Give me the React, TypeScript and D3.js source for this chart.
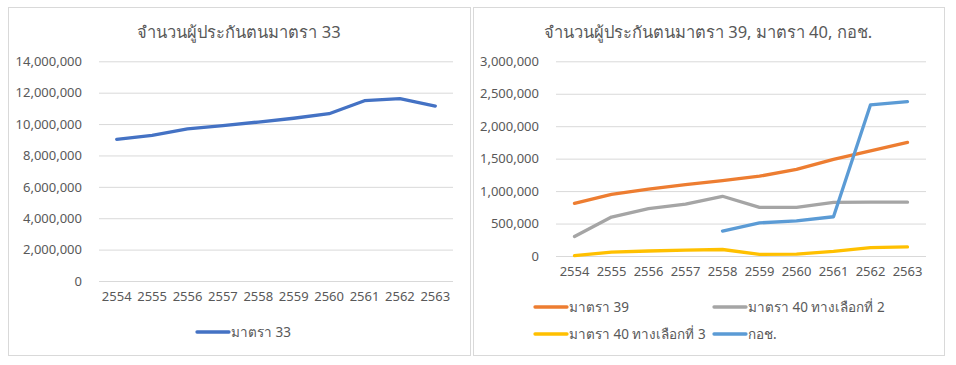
import { useEffect, useRef } from 'react';
import * as d3 from 'd3';

const years = ['2554', '2555', '2556', '2557', '2558', '2559', '2560', '2561', '2562', '2563'];

const s33 = [9030000, 9280000, 9690000, 9900000, 10130000, 10370000, 10660000, 11490000, 11620000, 11150000];

const s39 = [812000, 950000, 1030000, 1100000, 1160000, 1230000, 1336000, 1490000, 1620000, 1750000];
const s40opt2 = [300000, 600000, 730000, 800000, 920000, 750000, 750000, 827000, 830000, 830000];
const s40opt3 = [5000, 60000, 77000, 90000, 100000, 26000, 30000, 70000, 130000, 140000];
const kor = [null, null, null, null, 385000, 510000, 540000, 605000, 2330000, 2380000];

const leftTicks = [0, 2000000, 4000000, 6000000, 8000000, 10000000, 12000000, 14000000];
const rightTicks = [0, 500000, 1000000, 1500000, 2000000, 2500000, 3000000];

const FONT = "'Segoe UI', 'Noto Sans', 'Open Sans', sans-serif";
const TXT = '#595959';
const GRID = '#d9d9d9';

type Series = { name: string; values: (number | null)[]; color: string };

export default function App() {
  const ref = useRef<SVGSVGElement>(null);

  useEffect(() => {
    if (!ref.current) return;
    const svg = d3.select(ref.current);
    svg.selectAll('*').remove();
    const fmt = d3.format(',');

    function panel(
      box: { x: number; y: number; w: number; h: number },
      plot: { left: number; right: number; top: number; bottom: number },
      title: string,
      titleX: number,
      ticks: number[],
      series: Series[],
      legend: { x: number; y: number }[]
    ) {
      const g = svg.append('g');
      g.append('rect')
        .attr('x', box.x + 0.5).attr('y', box.y + 0.5)
        .attr('width', box.w).attr('height', box.h)
        .attr('fill', '#fff').attr('stroke', GRID);

      g.append('text')
        .attr('x', titleX).attr('y', 38)
        .attr('text-anchor', 'middle')
        .attr('font-family', FONT).attr('font-size', 16.5)
        .attr('fill', TXT).text(title);

      const x = d3.scaleBand().domain(years).range([plot.left, plot.right]);
      const y = d3.scaleLinear().domain([0, ticks[ticks.length - 1]]).range([plot.bottom, plot.top]);

      // grid
      const grid = g.append('g')
        .attr('transform', `translate(${plot.left},0)`)
        .call(d3.axisLeft(y).tickValues(ticks).tickSize(-(plot.right - plot.left)).tickFormat(() => ''));
      grid.select('.domain').remove();
      grid.selectAll('line').attr('stroke', GRID).attr('stroke-width', 1);

      // y labels
      const yAx = g.append('g')
        .attr('transform', `translate(${plot.left - 14},0)`)
        .call(d3.axisLeft(y).tickValues(ticks).tickSize(0).tickFormat((d) => fmt(d as number)));
      yAx.select('.domain').remove();
      yAx.selectAll('text').attr('fill', TXT).attr('font-size', 13).attr('font-family', FONT);

      // x labels
      const xAx = g.append('g')
        .attr('transform', `translate(0,${plot.bottom + 8})`)
        .call(d3.axisBottom(x).tickSize(0));
      xAx.select('.domain').remove();
      xAx.selectAll('text').attr('fill', TXT).attr('font-size', 13).attr('font-family', FONT);

      const line = d3.line<number | null>()
        .defined((d) => d !== null)
        .x((_, i) => (x(years[i]) || 0) + x.bandwidth() / 2)
        .y((d) => y(d as number));

      series.forEach((s) => {
        g.append('path')
          .attr('d', line(s.values))
          .attr('fill', 'none')
          .attr('stroke', s.color)
          .attr('stroke-width', 3.3)
          .attr('stroke-linejoin', 'round')
          .attr('stroke-linecap', 'round');
      });

      // legend
      series.forEach((s, i) => {
        const p = legend[i];
        g.append('line')
          .attr('x1', p.x).attr('x2', p.x + 32)
          .attr('y1', p.y).attr('y2', p.y)
          .attr('stroke', s.color).attr('stroke-width', 3.3)
          .attr('stroke-linecap', 'round');
        g.append('text')
          .attr('x', p.x + 34).attr('y', p.y + 5)
          .attr('font-family', FONT).attr('font-size', 13.5)
          .attr('fill', TXT).text(s.name);
      });
    }

    panel(
      { x: 8, y: 7, w: 462, h: 348 },
      { left: 99, right: 453, top: 61.3, bottom: 281 },
      'จำนวนผู้ประกันตนมาตรา 33',
      239,
      leftTicks,
      [{ name: 'มาตรา 33', values: s33, color: '#4472C4' }],
      [{ x: 197, y: 332 }]
    );

    panel(
      { x: 473, y: 7, w: 471, h: 348 },
      { left: 556, right: 926, top: 61.3, bottom: 256 },
      'จำนวนผู้ประกันตนมาตรา 39, มาตรา 40, กอช.',
      708,
      rightTicks,
      [
        { name: 'มาตรา 39', values: s39, color: '#ED7D31' },
        { name: 'มาตรา 40 ทางเลือกที่ 2', values: s40opt2, color: '#A5A5A5' },
        { name: 'มาตรา 40 ทางเลือกที่ 3', values: s40opt3, color: '#FFC000' },
        { name: 'กอช.', values: kor, color: '#5B9BD5' },
      ],
      [
        { x: 535, y: 307 },
        { x: 714, y: 307 },
        { x: 535, y: 334 },
        { x: 714, y: 334 },
      ]
    );
  }, []);

  return (
    <svg
      ref={ref}
      width={956}
      height={365}
      style={{ position: 'absolute', left: 0, top: 0, background: '#fff' }}
    />
  );
}
